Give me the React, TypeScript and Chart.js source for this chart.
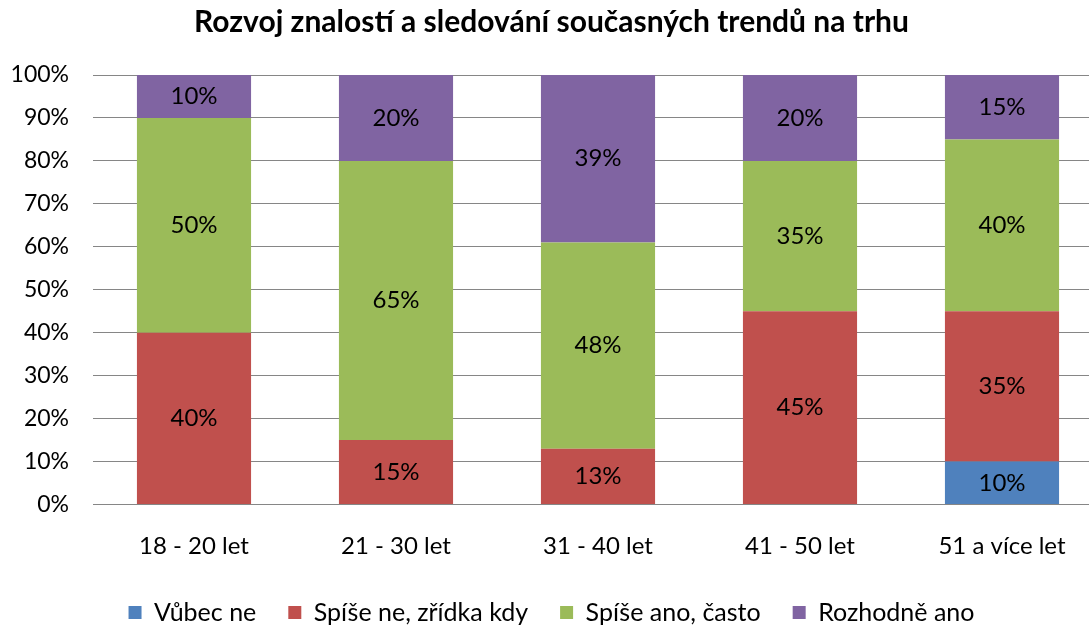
import React, { useEffect, useRef } from "react";
import { Chart, registerables } from "chart.js";

Chart.register(...registerables);

const categories = ["18 - 20 let", "21 - 30 let", "31 - 40 let", "41 - 50 let", "51 a více let"];
const seriesNames = ["Vůbec ne", "Spíše ne, zřídka kdy", "Spíše ano, často", "Rozhodně ano"];
const vubecNe = [0, 0, 0, 0, 10];
const spiseNe = [40, 15, 13, 45, 35];
const spiseAno = [50, 65, 48, 35, 40];
const rozhodneAno = [10, 20, 39, 20, 15];
const colors = ["#4F81BD", "#C0504D", "#9BBB59", "#8064A2"];
const titleText = "Rozvoj znalostí a sledování současných trendů na trhu";

const FONT = "Lato, 'Open Sans', sans-serif";
const CANVAS_W = 1103;

const labelPlugin = {
  id: "segLabels",
  afterDatasetsDraw(chart: any) {
    const ctx = chart.ctx;
    ctx.save();
    ctx.font = `24px ${FONT}`;
    ctx.fillStyle = "#000";
    ctx.textAlign = "center";
    ctx.textBaseline = "middle";
    chart.data.datasets.forEach((ds: any, i: number) => {
      const meta = chart.getDatasetMeta(i);
      meta.data.forEach((el: any, j: number) => {
        const v = ds.data[j];
        if (!v) return;
        ctx.fillText(v + "%", el.x, (el.y + el.base) / 2);
      });
    });
    ctx.restore();
  },
};

export default function App() {
  const ref = useRef<HTMLCanvasElement>(null);
  useEffect(() => {
    document.body.style.margin = "0";
    const data = [vubecNe, spiseNe, spiseAno, rozhodneAno];
    const chart = new Chart(ref.current!, {
      type: "bar",
      data: {
        labels: categories,
        datasets: seriesNames.map((n, i) => ({
          label: n,
          data: data[i],
          backgroundColor: colors[i],
          borderWidth: 0,
          barPercentage: 0.565,
          categoryPercentage: 1,
        })),
      },
      options: {
        animation: false,
        responsive: false,
        maintainAspectRatio: false,
        layout: { padding: { left: 0, right: 0, top: 0, bottom: -9 } },
        plugins: {
          title: {
            display: true,
            text: titleText,
            color: "#000",
            font: { family: FONT, size: 30, weight: "bold" },
            padding: { top: 4, bottom: 35 },
          },
          legend: {
            position: "bottom",
            labels: {
              color: "#000",
              font: { family: FONT, size: 25 },
              boxWidth: 13,
              boxHeight: 13,
              padding: 32,
            },
          },
          tooltip: { enabled: false },
        },
        scales: {
          x: {
            stacked: true,
            grid: { display: false, drawTicks: false },
            border: { display: false },
            ticks: { color: "#000", font: { family: FONT, size: 24 }, padding: 27 },
            afterFit(scale: any) {
              scale.height = 63.5;
            },
          },
          y: {
            stacked: true,
            min: 0,
            max: 100,
            grid: { color: "#868686", lineWidth: 1, drawTicks: false },
            border: { display: false },
            ticks: {
              stepSize: 10,
              color: "#000",
              font: { family: FONT, size: 23 },
              padding: 24,
              callback: (v: any) => v + "%",
            },
            afterFit(scale: any) {
              scale.width = 93;
            },
          },
        },
      },
      plugins: [labelPlugin],
    });
    return () => chart.destroy();
  }, []);
  return (
    <div style={{ position: "absolute", left: 0, top: 0, width: 1089, height: 626, overflow: "hidden" }}>
      <canvas ref={ref} width={CANVAS_W} height={626} style={{ width: CANVAS_W, height: 626 }} />
    </div>
  );
}
